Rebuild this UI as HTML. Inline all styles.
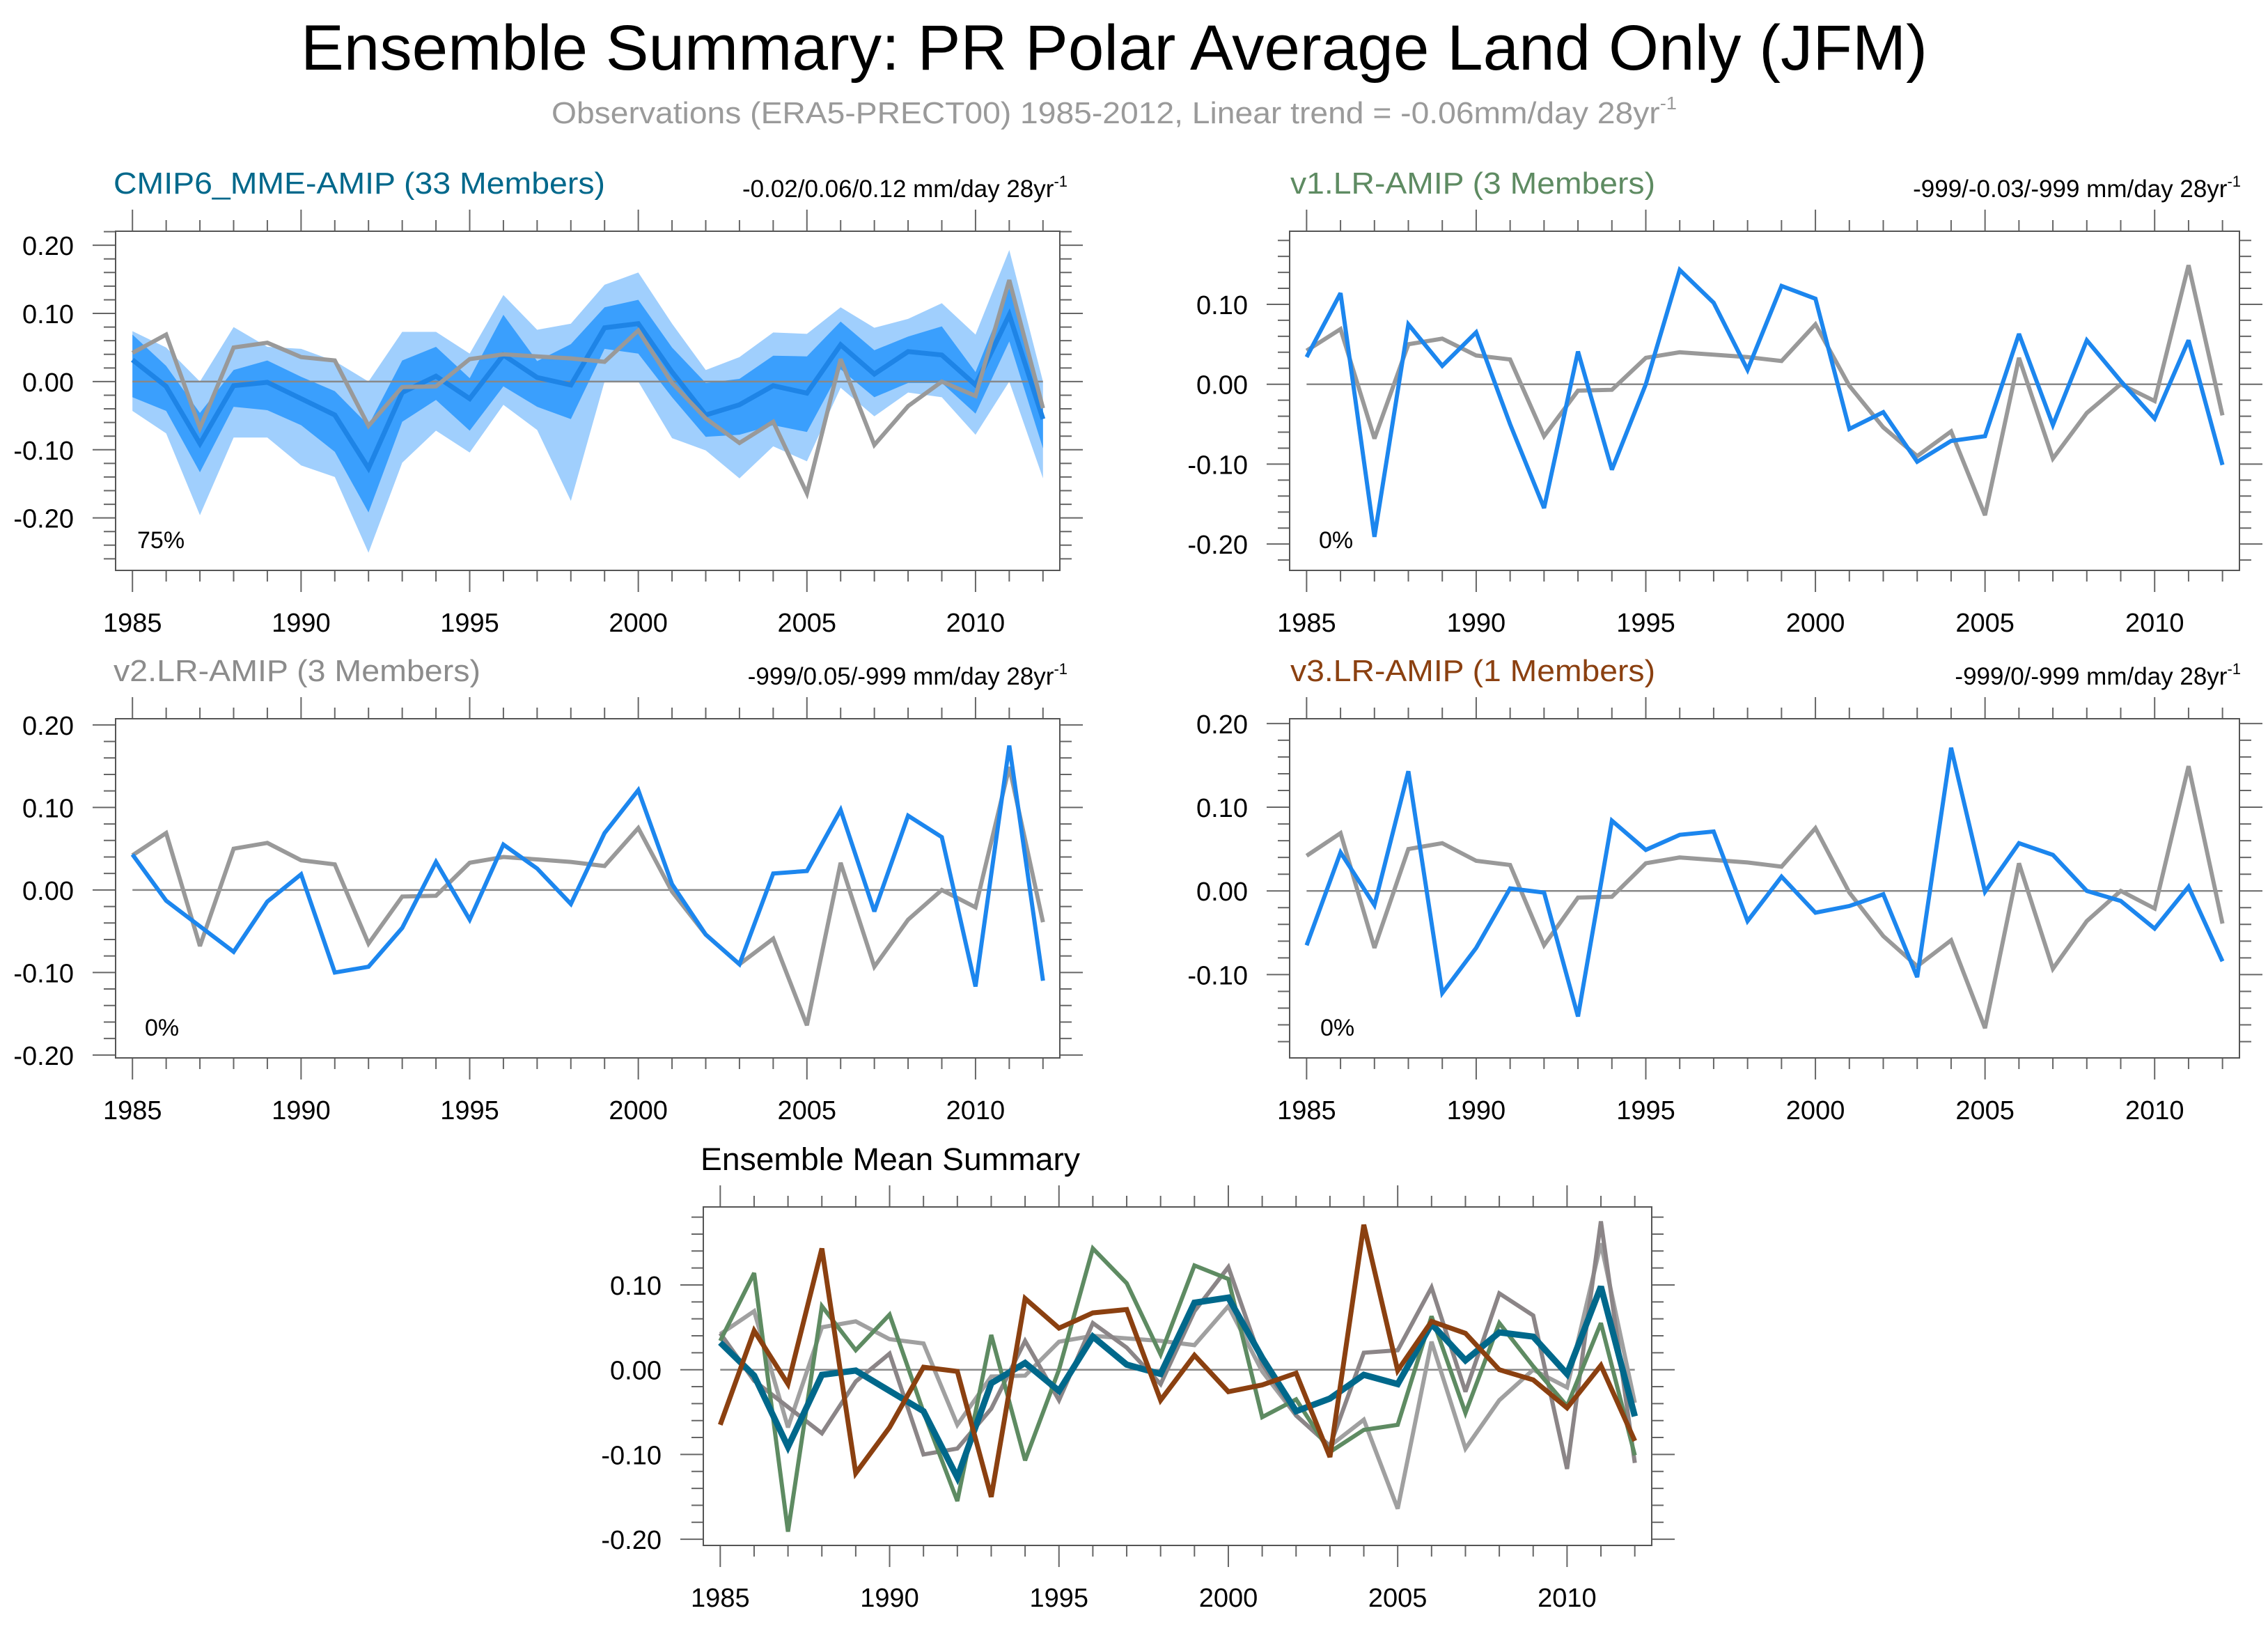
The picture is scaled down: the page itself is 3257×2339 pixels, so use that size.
<!DOCTYPE html>
<html><head><meta charset="utf-8"><title>Ensemble Summary</title>
<style>html,body{margin:0;padding:0;background:#fff}svg{display:block}text{font-family:"Liberation Sans",Arial,sans-serif}</style></head>
<body>
<svg id="chart" xmlns="http://www.w3.org/2000/svg" width="3257" height="2339" viewBox="0 0 3257 2339">
<rect x="0" y="0" width="3257" height="2339" fill="#fff"/>
<text x="1600" y="100" font-size="92" text-anchor="middle" textLength="2336" lengthAdjust="spacingAndGlyphs" fill="#000">Ensemble Summary: PR Polar Average Land Only (JFM)</text>
<text x="1600" y="177" font-size="44" text-anchor="middle" textLength="1616" lengthAdjust="spacingAndGlyphs" fill="#9a9a9a">Observations (ERA5-PRECT00) 1985-2012, Linear trend = -0.06mm/day 28yr<tspan font-size="26" dy="-20">-1</tspan></text>

<text x="163" y="278" font-size="44" textLength="706" lengthAdjust="spacingAndGlyphs" fill="#00688b">CMIP6_MME-AMIP (33 Members)</text>
<text x="1533" y="283" font-size="35" text-anchor="end" fill="#000">-0.02/0.06/0.12 mm/day 28yr<tspan font-size="22" dy="-15">-1</tspan></text>
<text x="1853" y="278" font-size="44" textLength="524" lengthAdjust="spacingAndGlyphs" fill="#5e8b62">v1.LR-AMIP (3 Members)</text>
<text x="3218" y="283" font-size="35" text-anchor="end" fill="#000">-999/-0.03/-999 mm/day 28yr<tspan font-size="22" dy="-15">-1</tspan></text>
<text x="163" y="978" font-size="44" textLength="527" lengthAdjust="spacingAndGlyphs" fill="#8c8c8c">v2.LR-AMIP (3 Members)</text>
<text x="1533" y="983" font-size="35" text-anchor="end" fill="#000">-999/0.05/-999 mm/day 28yr<tspan font-size="22" dy="-15">-1</tspan></text>
<text x="1853" y="978" font-size="44" textLength="524" lengthAdjust="spacingAndGlyphs" fill="#8b4010">v3.LR-AMIP (1 Members)</text>
<text x="3218" y="983" font-size="35" text-anchor="end" fill="#000">-999/0/-999 mm/day 28yr<tspan font-size="22" dy="-15">-1</tspan></text>
<text x="1006" y="1680" font-size="45" textLength="545" lengthAdjust="spacingAndGlyphs" fill="#000">Ensemble Mean Summary</text>

<text x="197" y="787" font-size="34" fill="#000">75%</text>
<text x="1894" y="787" font-size="34" fill="#000">0%</text>
<text x="208" y="1487" font-size="34" fill="#000">0%</text>
<text x="1896" y="1487" font-size="34" fill="#000">0%</text>
<g id="plots"></g>
</svg>
<script>
const years = [1985,1986,1987,1988,1989,1990,1991,1992,1993,1994,1995,1996,1997,1998,1999,2000,2001,2002,2003,2004,2005,2006,2007,2008,2009,2010,2011,2012];
const obs = [0.042,0.069,-0.068,0.050,0.057,0.036,0.031,-0.065,-0.008,-0.007,0.033,0.040,0.037,0.034,0.029,0.075,-0.002,-0.054,-0.090,-0.059,-0.164,0.033,-0.093,-0.036,0.000,-0.021,0.149,-0.039];
const cmipMean = [0.032,-0.007,-0.091,-0.006,-0.001,-0.025,-0.049,-0.127,-0.016,0.008,-0.025,0.039,0.006,-0.005,0.079,0.085,0.014,-0.049,-0.034,-0.006,-0.017,0.054,0.011,0.044,0.039,-0.005,0.098,-0.055];
const cmipInnerHi = [0.069,0.023,-0.046,0.017,0.031,0.007,-0.014,-0.064,0.031,0.051,0.005,0.098,0.030,0.055,0.109,0.120,0.050,-0.002,0.004,0.038,0.037,0.088,0.046,0.066,0.081,0.014,0.137,-0.032];
const cmipInnerLo = [-0.023,-0.043,-0.133,-0.037,-0.042,-0.064,-0.103,-0.192,-0.059,-0.027,-0.072,-0.007,-0.037,-0.055,0.048,0.041,-0.023,-0.081,-0.078,-0.064,-0.074,0.018,-0.023,-0.002,-0.002,-0.047,0.059,-0.098];
const cmipOuterHi = [0.074,0.050,0.000,0.080,0.051,0.048,0.030,0.000,0.073,0.073,0.041,0.127,0.076,0.085,0.142,0.160,0.085,0.017,0.036,0.072,0.070,0.109,0.079,0.092,0.115,0.069,0.193,0.000];
const cmipOuterLo = [-0.043,-0.076,-0.196,-0.082,-0.082,-0.123,-0.140,-0.251,-0.119,-0.072,-0.104,-0.034,-0.071,-0.175,0.000,0.000,-0.083,-0.101,-0.142,-0.095,-0.117,-0.009,-0.051,-0.016,-0.023,-0.078,0.000,-0.142];
const v1 = [0.034,0.114,-0.191,0.075,0.023,0.065,-0.050,-0.155,0.041,-0.107,0.000,0.143,0.102,0.018,0.123,0.107,-0.056,-0.035,-0.097,-0.071,-0.065,0.063,-0.051,0.055,0.004,-0.043,0.055,-0.101];
const v2 = [0.043,-0.013,-0.044,-0.075,-0.014,0.019,-0.100,-0.093,-0.046,0.034,-0.036,0.055,0.026,-0.017,0.069,0.121,0.007,-0.054,-0.090,0.020,0.023,0.097,-0.026,0.090,0.064,-0.117,0.175,-0.110];
const v3 = [-0.065,0.046,-0.017,0.143,-0.122,-0.068,0.003,-0.002,-0.150,0.084,0.049,0.067,0.071,-0.036,0.017,-0.026,-0.018,-0.004,-0.103,0.171,-0.001,0.057,0.043,0.000,-0.012,-0.045,0.005,-0.084];
const yTickLabels = ["-0.20","-0.10","0.00","0.10","0.20"];
const xTickLabels = ["1985","1990","1995","2000","2005","2010"];

const NS = "http://www.w3.org/2000/svg";
const root = document.getElementById("plots");
function mk(tag, attrs, parent) {
  const e = document.createElementNS(NS, tag);
  for (const k in attrs) e.setAttribute(k, attrs[k]);
  (parent || root).appendChild(e);
  return e;
}

function makePanel(name, x0, x1, y0, y1, ymin, ymax) {
  const g = mk("g", {});
  
  
  const sx = v => x0 + (v - 1984.5) / 28 * (x1 - x0);
  const sy = v => y1 - (v - ymin) / (ymax - ymin) * (y1 - y0);
  const tc = "#666";
  for (let yr = 1985; yr <= 2012; yr++) {
    const major = (yr % 5 === 0);
    const L = major ? 31 : 16;
    const t1 = mk("line", {x1: sx(yr), x2: sx(yr), y1: y0 - L, y2: y0, stroke: tc, "stroke-width": 2}, g);
    
    
    const t2 = mk("line", {x1: sx(yr), x2: sx(yr), y1: y1, y2: y1 + L, stroke: tc, "stroke-width": 2}, g);
    
    
  }
  xTickLabels.forEach(lb => {
    const t = mk("text", {x: sx(+lb), y: y1 + 88, "font-size": 38, "text-anchor": "middle", fill: "#000"}, g);
    
    
    t.textContent = lb;
  });
  for (let i = -30; i <= 30; i += 2) {
    const v = i / 100;
    if (v < ymin - 1e-9 || v > ymax + 1e-9) continue;
    const major = (i % 10 === 0);
    const L = major ? 33 : 17;
    const a = mk("line", {x1: x0 - L, x2: x0, y1: sy(v), y2: sy(v), stroke: tc, "stroke-width": 2}, g);
    
    
    const b = mk("line", {x1: x1, x2: x1 + L, y1: sy(v), y2: sy(v), stroke: tc, "stroke-width": 2}, g);
    
    
  }
  yTickLabels.forEach(lb => {
    const v = parseFloat(lb);
    if (v < ymin - 1e-9 || v > ymax + 1e-9) return;
    const t = mk("text", {x: x0 - 60, y: sy(v) + 14, "font-size": 38, "text-anchor": "end", fill: "#000"}, g);
    
    
    t.textContent = lb;
  });
  const fr = mk("rect", {x: x0, y: y0, width: x1 - x0, height: y1 - y0, fill: "none", stroke: "#555", "stroke-width": 2}, g);
  
  
  return {g, sx, sy};
}
function linePath(p, arr) {
  return arr.map((v, i) => (i ? "L" : "M") + p.sx(years[i]).toFixed(1) + "," + p.sy(v).toFixed(1)).join(" ");
}
function bandPath(p, hi, lo) {
  let d = hi.map((v, i) => (i ? "L" : "M") + p.sx(years[i]).toFixed(1) + "," + p.sy(v).toFixed(1)).join(" ");
  for (let i = lo.length - 1; i >= 0; i--) d += " L" + p.sx(years[i]).toFixed(1) + "," + p.sy(lo[i]).toFixed(1);
  return d + " Z";
}
function zeroLine(p) {
  const z = mk("line", {x1: p.sx(1985), x2: p.sx(2012), y1: p.sy(0), y2: p.sy(0), stroke: "#888", "stroke-width": 2.5}, p.g);
  
  
}
function series(p, arr, color, w, name) {
  const l = mk("path", {d: linePath(p, arr), fill: "none", stroke: color, "stroke-width": w, "stroke-linejoin": "miter", "stroke-miterlimit": 3}, p.g);
  
  
}

const p1 = makePanel("cmip6-panel", 166, 1522, 332, 819, -0.277, 0.2206);
const ob = mk("path", {d: bandPath(p1, cmipOuterHi, cmipOuterLo), fill: "#a0cffd", stroke: "none"}, p1.g);


const ib = mk("path", {d: bandPath(p1, cmipInnerHi, cmipInnerLo), fill: "#3a9ffd", stroke: "none"}, p1.g);


zeroLine(p1);
series(p1, cmipMean, "#1e84e6", 7, "cmip6-mean-line");
series(p1, obs, "#999", 6, "obs-line");

const p2 = makePanel("v1-panel", 1852, 3216, 332, 819, -0.233, 0.1915);
zeroLine(p2);
series(p2, obs, "#999", 6, "obs-line");
series(p2, v1, "#1c86ee", 6, "v1-line");

const p3 = makePanel("v2-panel", 166, 1522, 1032, 1519, -0.2035, 0.2075);
zeroLine(p3);
series(p3, obs, "#999", 6, "obs-line");
series(p3, v2, "#1c86ee", 6, "v2-line");

const p4 = makePanel("v3-panel", 1852, 3216, 1032, 1519, -0.1995, 0.2057);
zeroLine(p4);
series(p4, obs, "#999", 6, "obs-line");
series(p4, v3, "#1c86ee", 6, "v3-line");

const p5 = makePanel("ensemble-mean-panel", 1010, 2372, 1733, 2219, -0.2073, 0.192);
zeroLine(p5);
series(p5, obs, "#a0a0a0", 6, "obs-line");
series(p5, v2, "#8b8587", 6, "v2-mean-line");
series(p5, v1, "#5e8b62", 6, "v1-mean-line");
series(p5, cmipMean, "#00688b", 9, "cmip6-mean-line");
series(p5, v3, "#8b4010", 7, "v3-mean-line");
</script>
</body></html>
